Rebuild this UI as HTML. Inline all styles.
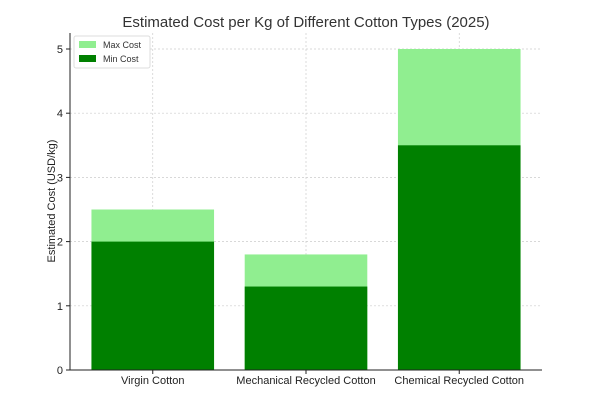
<!DOCTYPE html>
<html><head><meta charset="utf-8"><style>
body{margin:0;background:#fff;font-family:"Liberation Sans","DejaVu Sans",sans-serif;}
</style></head><body>
<svg id="chart" width="600" height="400" viewBox="0 0 600 400">
<text x="306" y="27" text-anchor="middle" font-size="15" fill="#333">Estimated Cost per Kg of Different Cotton Types (2025)</text>
<text transform="translate(55,201) rotate(-90)" text-anchor="middle" font-size="11" fill="#222">Estimated Cost (USD/kg)</text>
<g id="grid"></g><g id="bars"></g><g id="axes"></g>
<g>
<rect x="74" y="36" width="76" height="32" fill="#fff" stroke="#ddd" rx="2"/>
<rect x="79" y="41" width="17" height="7" fill="#90ee90"/>
<text x="103" y="48" font-size="9" fill="#333">Max Cost</text>
<rect x="79" y="55" width="17" height="7" fill="#008000"/>
<text x="103" y="62" font-size="9" fill="#333">Min Cost</text>
</g>
</svg>
<script>
const categories=["Virgin Cotton","Mechanical Recycled Cotton","Chemical Recycled Cotton"];
const minCost=[2.0,1.3,3.5];
const maxCost=[2.5,1.8,5.0];
const yTicks=[0,1,2,3,4,5];
const NS="http://www.w3.org/2000/svg";
const L=70,R=542,T=33,B=370;
const x=i=>L+(i+0.54)*(R-L)/3.08;
const y=v=>B-v*(B-49)/5;
const bw=0.8*(R-L)/3.08;
function mk(p,t,a){const e=document.createElementNS(NS,t);for(const k in a)e.setAttribute(k,a[k]);document.getElementById(p).appendChild(e);return e;}
yTicks.forEach(v=>{
 const g=mk("grid","line",{x1:L,x2:R,y1:y(v),y2:y(v),stroke:"#ccc","stroke-dasharray":"2,2","stroke-width":0.7});
 
 
 const tk=mk("axes","line",{x1:L-4,x2:L,y1:y(v),y2:y(v),stroke:"#222"});
 
 
 const t=mk("axes","text",{x:L-7,y:y(v)+4,"text-anchor":"end","font-size":11,fill:"#222"});
 t.textContent=v;
 
 
});
categories.forEach((c,i)=>{
 const g=mk("grid","line",{x1:x(i),x2:x(i),y1:T,y2:B,stroke:"#ccc","stroke-dasharray":"2,2","stroke-width":0.7});
 
 
 const a=mk("bars","rect",{x:x(i)-bw/2,y:y(maxCost[i]),width:bw,height:y(0)-y(maxCost[i]),fill:"#90ee90"});
 
 
 const b=mk("bars","rect",{x:x(i)-bw/2,y:y(minCost[i]),width:bw,height:y(0)-y(minCost[i]),fill:"#008000"});
 
 
 const tk=mk("axes","line",{x1:x(i),x2:x(i),y1:B,y2:B+4,stroke:"#222"});
 
 
 const t=mk("axes","text",{x:x(i),y:B+14,"text-anchor":"middle","font-size":11,fill:"#222"});
 t.textContent=c;
 
 
});
const ya=mk("axes","line",{x1:L,x2:L,y1:T,y2:B,stroke:"#222","stroke-width":1});


const xa=mk("axes","line",{x1:L,x2:R,y1:B,y2:B,stroke:"#222","stroke-width":1});


</script>
</body></html>
